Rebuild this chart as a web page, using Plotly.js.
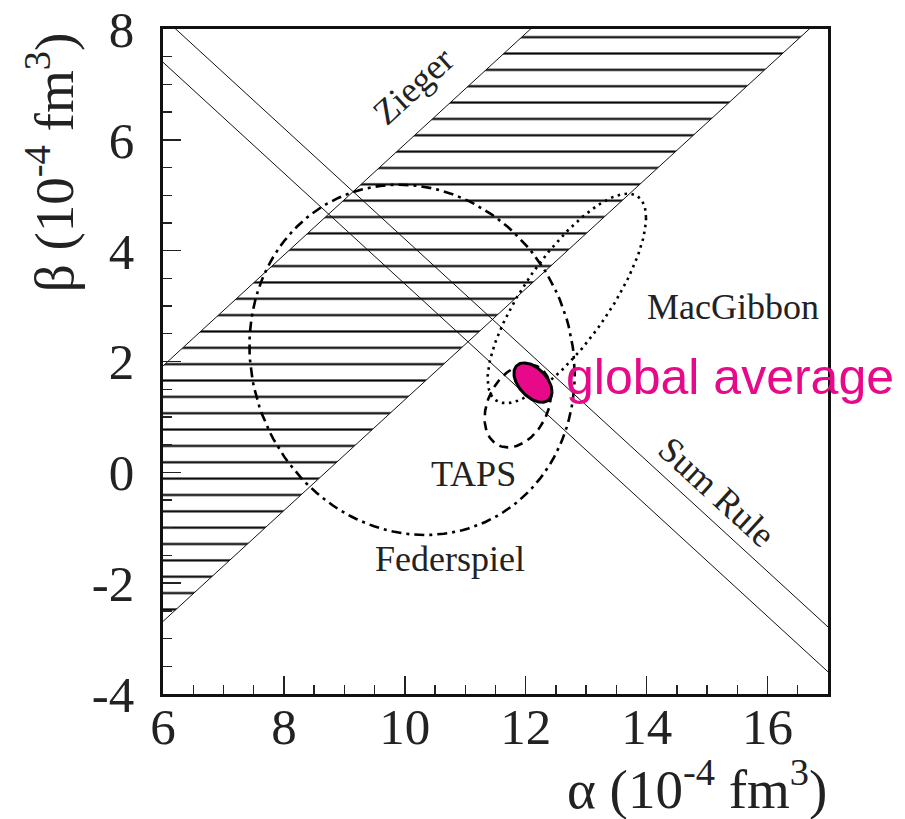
<!DOCTYPE html>
<html>
<head>
<meta charset="utf-8">
<script src="https://cdn.plot.ly/plotly-3.0.1.min.js"></script>
<style>html,body{margin:0;padding:0;background:#fff;}#chart{width:905px;height:819px;}</style>
</head>
<body>
<div id="chart"></div>
<script>
// ---- data ----
const alphaRange = [6, 17];
const betaRange = [-4, 8];
const xTickVals = [6, 8, 10, 12, 14, 16];
const xTickText = ['6', '8', '10', '12', '14', '16'];
const yTickVals = [-4, -2, 0, 2, 4, 6, 8];
const yTickText = ['-4', '-2', '0', '2', '4', '6', '8'];

// Zieger band: bounds on (alpha - beta)
const ziegerDiff = [4.08, 8.69];
// Sum rule band: bounds on (alpha + beta)
const sumRuleTotal = [13.40, 14.21];

// ellipses
const ellipseNames = ['Federspiel', 'MacGibbon', 'TAPS', 'global average'];
const ellipseAlpha = [10.12, 12.68, 11.87, 12.12];
const ellipseBeta = [2.03, 3.14, 1.20, 1.62];
const ellipseHalfAlpha = [2.69, 1.31, 0.55, 0.315];
const ellipseHalfBeta = [3.16, 1.89, 0.75, 0.355];
const ellipseCorr = [-0.08, 0.77, 0.30, -0.47];

// labels
const labelText = ['Zieger', 'Sum Rule', 'MacGibbon', 'TAPS', 'Federspiel'];
const labelAlpha = [10.14, 15.16, 15.43, 11.14, 10.75];
const labelBeta = [6.98, -0.36, 2.98, -0.03, -1.57];
const labelAngle = [-42.5, 42.5, 0, 0, 0];

// ---- build ----
const ext = [alphaRange[0] - 1, alphaRange[1] + 1];
const traces = [];

// Zieger hatched band
traces.push({
  x: [ext[0], ext[1], ext[1], ext[0], ext[0]],
  y: [ext[0] - ziegerDiff[1], ext[1] - ziegerDiff[1], ext[1] - ziegerDiff[0], ext[0] - ziegerDiff[0], ext[0] - ziegerDiff[1]],
  mode: 'lines', fill: 'toself',
  fillcolor: 'rgba(0,0,0,0)',
  fillpattern: {shape: '-', size: 16.35, solidity: 0.13, fgcolor: '#000', bgcolor: 'rgba(0,0,0,0)', fillmode: 'replace'},
  line: {color: '#111', width: 1}, hoverinfo: 'skip', showlegend: false
});
// Sum rule lines
sumRuleTotal.forEach(s => {
  traces.push({x: [ext[0], ext[1]], y: [s - ext[0], s - ext[1]], mode: 'lines',
    line: {color: '#111', width: 1}, hoverinfo: 'skip', showlegend: false});
});

const styles = [
  {dash: '10px,5px,3px,5px', width: 2.6},
  {dash: '2.5px,4.5px', width: 2.6},
  {dash: '9px,6px', width: 2.6},
  {dash: 'solid', width: 3}
];
const N = 160;
for (let i = 0; i < ellipseNames.length; i++) {
  const xs = [], ys = [];
  const r = ellipseCorr[i], q = Math.sqrt(1 - r * r);
  for (let k = 0; k <= N; k++) {
    const t = 2 * Math.PI * k / N;
    xs.push(ellipseAlpha[i] + ellipseHalfAlpha[i] * Math.cos(t));
    ys.push(ellipseBeta[i] + ellipseHalfBeta[i] * (r * Math.cos(t) + q * Math.sin(t)));
  }
  const tr = {x: xs, y: ys, mode: 'lines', name: ellipseNames[i],
    line: {color: '#000', width: styles[i].width, dash: styles[i].dash},
    hoverinfo: 'skip', showlegend: false};
  if (i === 3) { tr.fill = 'toself'; tr.fillcolor = '#e8088a'; }
  traces.push(tr);
}

const serif = 'Liberation Serif, Times New Roman, serif';
const annotations = labelText.map((t, i) => ({
  text: t, x: labelAlpha[i], y: labelBeta[i], xref: 'x', yref: 'y',
  showarrow: false, textangle: labelAngle[i], xanchor: 'center', yanchor: 'middle',
  font: {family: serif, size: 36, color: '#222'}
}));
annotations.push({
  text: 'global average', x: 12.63, y: 1.72, xref: 'x', yref: 'y', showarrow: false,
  xanchor: 'left', yanchor: 'middle',
  font: {family: 'Liberation Sans, Arial, sans-serif', size: 50, color: '#e8088a'}
});
annotations.push({
  text: 'α (10<sup>-4</sup> fm<sup>3</sup>)', xref: 'paper', yref: 'paper', x: 1.002, y: -0.137,
  xanchor: 'right', yanchor: 'middle', showarrow: false,
  font: {family: serif, size: 55, color: '#222'}
});
annotations.push({
  text: 'β (10<sup>-4</sup> fm<sup>3</sup>)', xref: 'paper', yref: 'paper', x: -0.168, y: 0.80,
  xanchor: 'center', yanchor: 'middle', textangle: -90, showarrow: false,
  font: {family: serif, size: 55, color: '#222'}
});

const axisCommon = {
  showgrid: false, zeroline: false, showline: true, mirror: true,
  linecolor: '#111', linewidth: 2.6,
  tickmode: 'array',
  ticks: 'inside', ticklen: 18, tickwidth: 1.4, tickcolor: '#222',
  tickfont: {family: serif, size: 51, color: '#222'},
  minor: {tickmode: 'linear', dtick: 0.5, ticks: 'inside', ticklen: 9, tickwidth: 1.4, tickcolor: '#222'}
};

const layout = {
  width: 905, height: 819,
  margin: {l: 163, r: 77, t: 29, b: 125},
  paper_bgcolor: '#fff', plot_bgcolor: '#fff',
  xaxis: Object.assign({}, axisCommon, {range: alphaRange, tickvals: xTickVals, ticktext: xTickText, ticklabelstandoff: -14}),
  yaxis: Object.assign({}, axisCommon, {range: betaRange, tickvals: yTickVals, ticktext: yTickText, ticklabelstandoff: 16}),
  annotations: annotations,
  showlegend: false
};
layout.xaxis.minor = Object.assign({}, axisCommon.minor, {tick0: 6});
layout.yaxis.minor = Object.assign({}, axisCommon.minor, {tick0: -4});

Plotly.newPlot('chart', traces, layout, {staticPlot: true});
</script>
</body>
</html>
